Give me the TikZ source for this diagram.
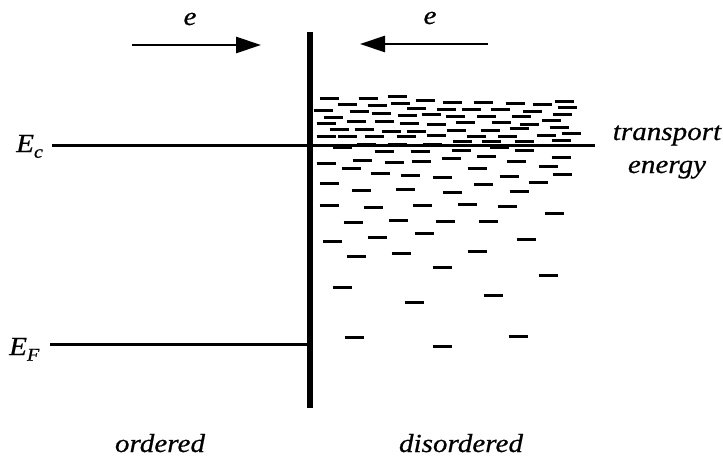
\documentclass[tikz,border=0pt]{standalone}
\usepackage{fontspec}
\setmainfont{Liberation Serif}
\newfontfamily\lblfont{Liberation Serif Italic}[FakeStretch=1.12,FakeBold=0.6]
\usetikzlibrary{arrows.meta}
\tikzset{
  bar/.style={line width=6pt},
  level/.style={line width=3pt},
  flow/.style={line width=2.8pt,-{Triangle[length=25pt,width=16pt]}},
  state/.style={line width=3pt},
  lbl/.style={font=\lblfont\fontsize{26}{30}\selectfont, inner sep=0pt, anchor=base},
}
\newcommand{\lvlname}[2]{#1\raisebox{-0.22em}{\fontsize{18}{20}\selectfont #2}}
\begin{document}
\begin{tikzpicture}[x=1pt,y=-1pt]
\useasboundingbox (0,0) rectangle (723,458);
% junction
\coordinate (jt) at (310,32);
\coordinate (jb) at (310,408);
\draw[bar] (jt) -- (jb);
% levels
\coordinate (ecL) at (52,145);
\coordinate (ecR) at (595,145);
\coordinate (efL) at (50,344);
\coordinate (efR) at (310,344);
\draw[level] (ecL) -- (ecR);
\draw[level] (efL) -- (efR);
% arrows
\coordinate (a1s) at (132,45);
\coordinate (a1e) at (261,45);
\coordinate (a2s) at (488,44);
\coordinate (a2e) at (360,44);
\draw[flow] (a1s) -- (a1e);
\draw[flow] (a2s) -- (a2e);
% labels
\node[lbl] (e1) at (190,25) {e};
\node[lbl] (e2) at (430,24) {e};
\node[lbl,anchor=base west] (Ec) at (16,152) {\lvlname{E}{c}};
\node[lbl,anchor=base west] (EF) at (9,355) {\lvlname{E}{F}};
\node[lbl] (tr) at (667,140) {transport};
\node[lbl] (en) at (667,173) {energy};
\node[lbl] (ord) at (160,452) {ordered};
\node[lbl] (dis) at (461,452) {disordered};
% localized states
\foreach \x/\y in {
329/98,368/98,397/96,425/100,564/101,
452/102,483/102,515/103,542/104,
347/104,377/105,400/103,
567/107,416/108,
323/110,359/111,381/113,446/109,471/109,500/109,532/111,
407/115,431/114,562/114,
333/117,455/116,486/116,521/116,
551/120,
356/121,384/121,
326/123,409/123,436/124,465/122,501/122,529/124,
559/127,
339/129,364/129,391/131,416/131,456/130,490/130,519/128,
571/133,546/135,
326/136,347/136,374/136,406/136,436/135,476/136,507/136,
561/140,462/141,491/141,524/141,
342/147,366/144,397/144,432/144,499/147,
461/150,524/150,384/151,420/151,
486/156,561/157,451/158,
362/160,394/162,421/161,516/161,326/163,
351/168,477/168,548/166,
380/173,410/175,442/177,509/176,562/174,
538/182,329/183,483/184,
361/190,405/189,452/192,519/191,
329/205,373/207,422/205,467/204,507/206,
554/213,
353/222,398/220,445/221,488/221,
424/233,377/237,526/239,332/241,
477/251,401/253,356/256,
442/267,548/275,342/287,493/295,414/302,354/337,518/336,442/346}
  \draw[state] (\x-9.5,\y) -- (\x+9.5,\y);
\end{tikzpicture}
\end{document}
